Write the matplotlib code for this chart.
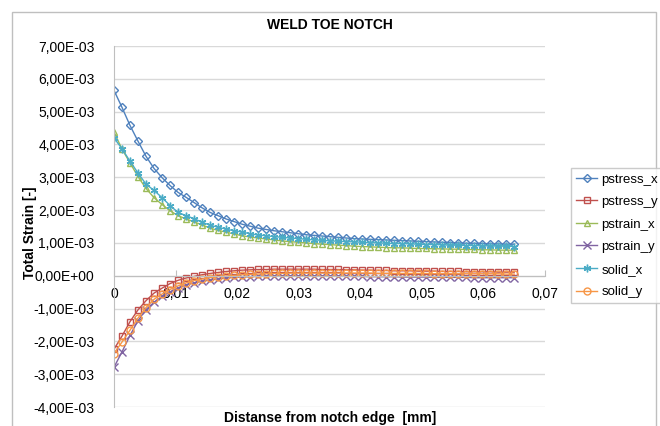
import numpy as np
import matplotlib
matplotlib.use('Agg')
import matplotlib.pyplot as plt
from matplotlib.ticker import FuncFormatter, MultipleLocator
from matplotlib.patches import Rectangle

plt.rcParams['font.family'] = ['Liberation Sans', 'DejaVu Sans']

# distance from notch edge [mm], 51 sample points
x = np.linspace(0, 0.065, 51)

# strain values in units of 1E-3
pstress_x = [5.65, 5.13, 4.58, 4.10, 3.64, 3.27, 2.99, 2.75, 2.54, 2.39,
             2.23, 2.07, 1.93, 1.83, 1.73, 1.65, 1.57, 1.51, 1.45, 1.41,
             1.37, 1.34, 1.31, 1.28, 1.25, 1.23, 1.21, 1.19, 1.17, 1.15,
             1.13, 1.12, 1.11, 1.10, 1.09, 1.08, 1.07, 1.06, 1.05, 1.04,
             1.03, 1.02, 1.01, 1.00, 0.99, 0.99, 0.98, 0.97, 0.97, 0.96, 0.96]
pstress_y = [-2.24, -1.84, -1.40, -1.04, -0.76, -0.53, -0.38, -0.24, -0.14, -0.07,
             -0.02, 0.03, 0.07, 0.10, 0.13, 0.15, 0.17, 0.18, 0.19, 0.19,
             0.20, 0.20, 0.20, 0.20, 0.20, 0.20, 0.19, 0.19, 0.19, 0.18,
             0.18, 0.17, 0.17, 0.16, 0.16, 0.15, 0.15, 0.15, 0.14, 0.14,
             0.14, 0.13, 0.13, 0.13, 0.12, 0.12, 0.12, 0.12, 0.11, 0.11, 0.11]
pstrain_x = [4.38, 3.86, 3.44, 3.02, 2.66, 2.38, 2.17, 1.98, 1.83, 1.73,
             1.64, 1.55, 1.45, 1.38, 1.33, 1.27, 1.22, 1.18, 1.15, 1.12,
             1.09, 1.06, 1.04, 1.02, 1.00, 0.98, 0.96, 0.95, 0.93, 0.92,
             0.90, 0.89, 0.88, 0.87, 0.86, 0.85, 0.85, 0.84, 0.83, 0.83,
             0.82, 0.82, 0.81, 0.81, 0.80, 0.80, 0.79, 0.79, 0.78, 0.78, 0.78]
pstrain_y = [-2.79, -2.32, -1.82, -1.37, -1.03, -0.81, -0.63, -0.49, -0.38, -0.28,
             -0.22, -0.17, -0.13, -0.10, -0.07, -0.05, -0.04, -0.03, -0.02, -0.01,
             -0.01, 0.00, 0.00, 0.00, 0.00, 0.00, -0.01, -0.01, -0.01, -0.02,
             -0.02, -0.02, -0.03, -0.03, -0.03, -0.03, -0.04, -0.04, -0.04, -0.04,
             -0.05, -0.05, -0.05, -0.05, -0.05, -0.06, -0.06, -0.06, -0.06, -0.06, -0.06]
solid_x = [4.20, 3.87, 3.49, 3.13, 2.79, 2.60, 2.38, 2.14, 1.93, 1.83,
           1.74, 1.63, 1.54, 1.48, 1.42, 1.37, 1.33, 1.28, 1.24, 1.22,
           1.19, 1.17, 1.15, 1.13, 1.11, 1.09, 1.08, 1.06, 1.05, 1.04,
           1.03, 1.02, 1.01, 1.00, 0.99, 0.98, 0.98, 0.97, 0.96, 0.95,
           0.95, 0.94, 0.93, 0.93, 0.92, 0.92, 0.91, 0.91, 0.90, 0.90, 0.89]
solid_y = [-2.37, -2.02, -1.66, -1.29, -0.97, -0.72, -0.56, -0.42, -0.31, -0.22,
           -0.15, -0.10, -0.06, -0.03, -0.01, 0.01, 0.03, 0.04, 0.05, 0.06,
           0.07, 0.07, 0.08, 0.08, 0.08, 0.08, 0.08, 0.08, 0.08, 0.08,
           0.08, 0.08, 0.08, 0.07, 0.07, 0.07, 0.07, 0.07, 0.07, 0.07,
           0.06, 0.06, 0.06, 0.06, 0.06, 0.06, 0.06, 0.06, 0.06, 0.05, 0.05]

series = [
    ('pstress_x', pstress_x, '#4F81BD', 'D'),
    ('pstress_y', pstress_y, '#C0504D', 's'),
    ('pstrain_x', pstrain_x, '#9BBB59', '^'),
    ('pstrain_y', pstrain_y, '#8064A2', 'x'),
    ('solid_x', solid_x, '#4BACC6', (6, 2, 0)),
    ('solid_y', solid_y, '#F79646', 'o'),
]

fig = plt.figure(figsize=(6.6, 4.26), dpi=100)
ax = fig.add_axes([0.1727, 0.0446, 0.6531, 0.8474])

# chart border like excel
fig.patches.append(Rectangle((12 / 660, -0.01), 644 / 660, 1 - 12 / 426 + 0.01,
                             transform=fig.transFigure, fill=False,
                             edgecolor='#BFBFBF', linewidth=1))

for name, vals, col, mk in series:
    y = np.array(vals) * 1e-3
    if mk in ('x', (6, 2, 0)):
        ax.plot(x, y, color=col, lw=1, marker=mk, ms=5.5, mew=1, label=name)
    else:
        ax.plot(x, y, color=col, lw=1, marker=mk, ms=5 if mk != 'D' else 4.5,
                mfc='none', mec=col, mew=1, label=name)

ax.set_xlim(0, 0.07)
ax.set_ylim(-4e-3, 7e-3)
ax.yaxis.set_major_locator(MultipleLocator(1e-3))
ax.xaxis.set_major_locator(MultipleLocator(0.01))
ax.yaxis.set_major_formatter(FuncFormatter(lambda v, p: f"{v:.2E}".replace('.', ',')))
ax.xaxis.set_major_formatter(FuncFormatter(lambda v, p: '0' if abs(v) < 1e-12 else f"{v:.2f}".replace('.', ',')))

ax.grid(axis='y', color='#D9D9D9', lw=1)
ax.set_axisbelow(True)
for s in ['top', 'right']:
    ax.spines[s].set_visible(False)
ax.spines['bottom'].set_position(('data', 0))
ax.spines['bottom'].set_color('#BFBFBF')
ax.spines['left'].set_color('#BFBFBF')
ax.tick_params(axis='x', direction='in', length=4, color='#BFBFBF', labelsize=10, pad=8)
ax.tick_params(axis='y', direction='out', length=0, labelsize=10, pad=14)

ax.set_title('WELD TOE NOTCH', fontsize=10, fontweight='bold', pad=12)
fig.text(0.5, 1 - 418 / 426, 'Distanse from notch edge  [mm]', ha='center', va='center',
         fontsize=10, fontweight='bold')
fig.text(30 / 660, 1 - 233 / 426, 'Total Strain [-]', ha='center', va='center',
         rotation=90, fontsize=10, fontweight='bold')

leg = fig.legend(loc='upper left', bbox_to_anchor=(571 / 660, 1 - 168 / 426),
                 fontsize=9.5, frameon=True, fancybox=False, handlelength=1.6,
                 labelspacing=0.78, borderpad=0.4, handletextpad=0.3, borderaxespad=0)
leg.get_frame().set_edgecolor('#BFBFBF')
leg.get_frame().set_linewidth(1)

fig.savefig('out.png', dpi=100)
